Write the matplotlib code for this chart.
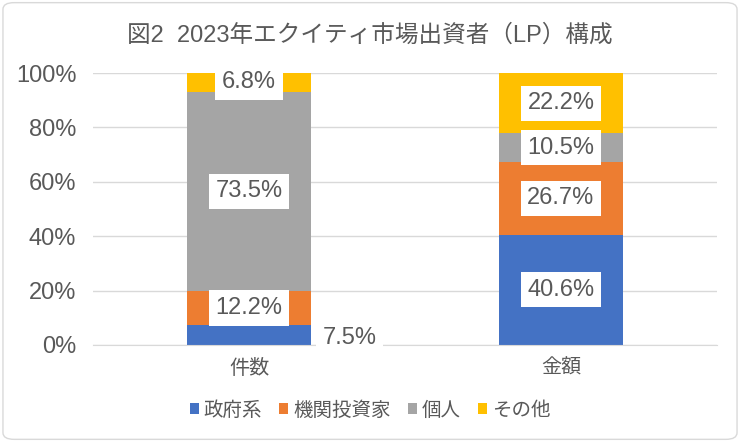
import matplotlib.pyplot as plt
import numpy as np
from matplotlib.patches import FancyBboxPatch

plt.rcParams['font.family'] = ['Liberation Sans', 'Noto Sans CJK JP']

categories = ['件数', '金額']
series_names = ['政府系', '機関投資家', '個人', 'その他']
gov = [7.5, 40.6]
inst = [12.2, 26.7]
indiv = [73.5, 10.5]
other = [6.8, 22.2]
colors = ['#4472C4', '#ED7D31', '#A5A5A5', '#FFC000']
text_col = '#595959'

fig = plt.figure(figsize=(7.4, 4.42), dpi=100)
ax = fig.add_axes([0.1257, 0.2195, 0.8432, 0.6153])

# chart area border
border = FancyBboxPatch((0.004, 0.006), 0.992, 0.988, boxstyle='round,pad=0,rounding_size=0.015',
                        transform=fig.transFigure, fill=False, edgecolor='#d9d9d9', linewidth=1)
fig.patches.append(border)

x = np.arange(len(categories))
width = 0.4
bottom = np.zeros(len(categories))
for name, vals, c in zip(series_names, [gov, inst, indiv, other], colors):
    vals = np.array(vals)
    ax.bar(x, vals, width, bottom=bottom, color=c, label=name, zorder=2)
    for i, v in enumerate(vals):
        box = dict(boxstyle='square,pad=0.28', facecolor='white', edgecolor='none')
        if name == '政府系' and i == 0:
            ax.annotate(f'{v:.1f}%', (x[i] + width / 2, bottom[i] + v / 2), xytext=(8, -2),
                        textcoords='offset points', ha='left', va='center', fontsize=17,
                        color=text_col, bbox=box, zorder=3)
        else:
            ax.text(x[i], bottom[i] + v / 2, f'{v:.1f}%', ha='center', va='center',
                    fontsize=17, color=text_col, bbox=box, zorder=3)
    bottom += vals

ax.set_xlim(-0.5, 1.5)
ax.set_ylim(0, 100)
ax.set_yticks(np.arange(0, 101, 20))
ax.set_yticklabels([f'{t}%' for t in range(0, 101, 20)], fontsize=17)
ax.set_xticks(x)
ax.set_xticklabels(categories, fontsize=14.5)
ax.tick_params(axis='both', length=0, colors=text_col)
ax.tick_params(axis='y', pad=12)
ax.tick_params(axis='x', pad=10)
ax.grid(axis='y', color='#d9d9d9', linewidth=1, zorder=0)
for s in ['top', 'left', 'right']:
    ax.spines[s].set_visible(False)
ax.spines['bottom'].set_color('#d9d9d9')

fig.suptitle('図2  2023年エクイティ市場出資者（LP）構成', y=0.945, fontsize=17, color=text_col)

fig.legend(loc='center', bbox_to_anchor=(0.5, 0.072), ncol=4, frameon=False,
           fontsize=14, labelcolor=text_col, handlelength=0.45, handleheight=0.45,
           handletextpad=0.25, columnspacing=0.9)

fig.savefig('out.png', dpi=100)
